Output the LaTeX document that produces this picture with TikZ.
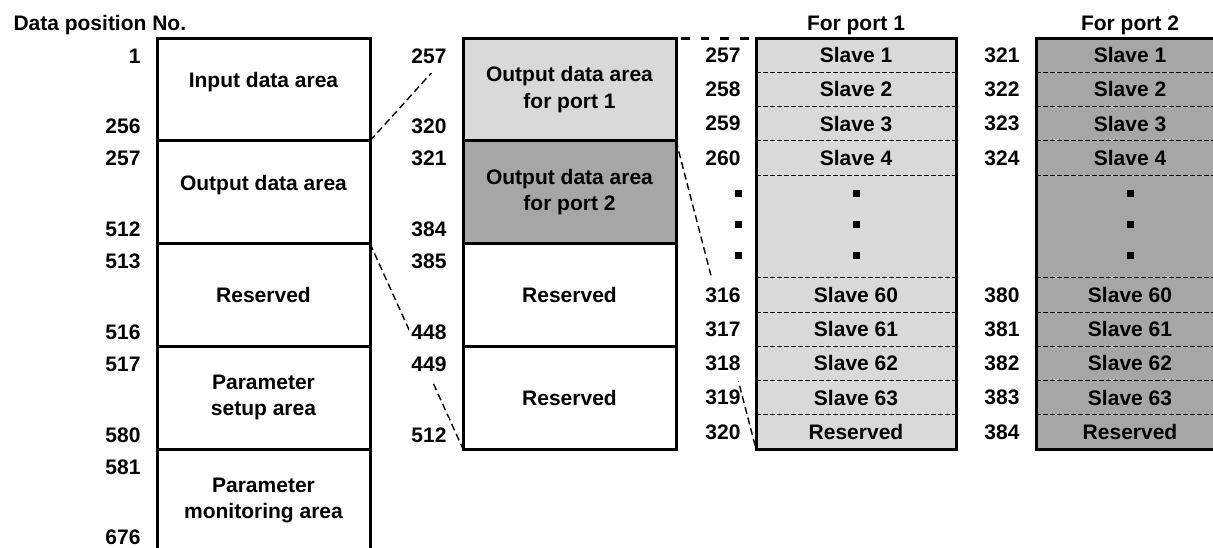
\documentclass[tikz,border=0pt]{standalone}
\usepackage{fontspec}
\setmainfont{Liberation Sans}
\definecolor{grisclair}{HTML}{D9D9D9}
\definecolor{grisfonce}{HTML}{A6A6A6}

\begin{document}
\begin{tikzpicture}[x=0.5pt, y=-0.5pt, line width=1.5pt,
  font=\bfseries\fontsize{10.5}{13.3}\selectfont,
  zone/.style={draw, anchor=north west, align=center, inner sep=0pt, outer sep=0pt,
    minimum width=106.5pt, minimum height=51.375pt},
  haut/.style={text depth=9pt},
  ligne/.style={anchor=north west, inner sep=0pt, outer sep=0pt, minimum height=17.125pt},
  num/.style={anchor=east, fill=white, inner xsep=1pt, inner ysep=0pt, minimum height=17.2pt},
  lien/.style={line width=0.7pt, dash pattern=on 3.5pt off 2pt},
  sep/.style={line width=0.5pt, dash pattern=on 2.5pt off 1pt}]
\useasboundingbox (0,0) rectangle (1213,547);
% left column
\node[zone, haut] (input) at (157,38) {Input data area};
\node[zone, haut] (output) at (157,140.75) {Output data area};
\node[zone] (res1) at (157,243.5) {Reserved};
\node[zone] (param) at (157,346.25) {Parameter\\setup area};
\node[zone] (monit) at (157,449) {Parameter\\monitoring area};
%% middle column
\node[zone, fill=grisclair] (op1) at (463,38) {Output data area\\for port 1};
\node[zone, fill=grisfonce] (op2) at (463,140.75) {Output data area\\for port 2};
\node[zone] (res2) at (463,243.5) {Reserved};
\node[zone] (res3) at (463,346.25) {Reserved};
% box port 1
\begin{scope}[every node/.append style={fill=grisclair, minimum width=100pt}]
\node[ligne] (p1s1) at (756,38) {Slave 1};
\node[ligne] (p1s2) at (756,72.25) {Slave 2};
\node[ligne] (p1s3) at (756,106.5) {Slave 3};
\node[ligne] (p1s4) at (756,140.75) {Slave 4};
\node[ligne, minimum height=51.375pt] (p1pts) at (756,175) {};
\node[ligne] (p1s60) at (756,277.75) {Slave 60};
\node[ligne] (p1s61) at (756,312) {Slave 61};
\node[ligne] (p1s62) at (756,346.25) {Slave 62};
\node[ligne] (p1s63) at (756,380.5) {Slave 63};
\node[ligne] (p1res) at (756,414.75) {Reserved};
\end{scope}
\draw[sep] (p1s1.south west) -- (p1s1.south east);
\draw[sep] (p1s2.south west) -- (p1s2.south east);
\draw[sep] (p1s3.south west) -- (p1s3.south east);
\draw[sep] (p1s4.south west) -- (p1s4.south east);
\draw[sep] (p1pts.south west) -- (p1pts.south east);
\draw[sep] (p1s60.south west) -- (p1s60.south east);
\draw[sep] (p1s61.south west) -- (p1s61.south east);
\draw[sep] (p1s62.south west) -- (p1s62.south east);
\draw[sep] (p1s63.south west) -- (p1s63.south east);
\draw (p1s1.north west) rectangle (p1res.south east);
\fill (852.5,189.5) rectangle +(7,7);
\fill (852.5,220.5) rectangle +(7,7);
\fill (852.5,251.5) rectangle +(7,7);
%% box port 2
\begin{scope}[every node/.append style={fill=grisfonce, minimum width=94pt}]
\node[ligne] (p2s1) at (1036,38) {Slave 1};
\node[ligne] (p2s2) at (1036,72.25) {Slave 2};
\node[ligne] (p2s3) at (1036,106.5) {Slave 3};
\node[ligne] (p2s4) at (1036,140.75) {Slave 4};
\node[ligne, minimum height=51.375pt] (p2pts) at (1036,175) {};
\node[ligne] (p2s60) at (1036,277.75) {Slave 60};
\node[ligne] (p2s61) at (1036,312) {Slave 61};
\node[ligne] (p2s62) at (1036,346.25) {Slave 62};
\node[ligne] (p2s63) at (1036,380.5) {Slave 63};
\node[ligne] (p2res) at (1036,414.75) {Reserved};
\end{scope}
\draw[sep] (p2s1.south west) -- (p2s1.south east);
\draw[sep] (p2s2.south west) -- (p2s2.south east);
\draw[sep] (p2s3.south west) -- (p2s3.south east);
\draw[sep] (p2s4.south west) -- (p2s4.south east);
\draw[sep] (p2pts.south west) -- (p2pts.south east);
\draw[sep] (p2s60.south west) -- (p2s60.south east);
\draw[sep] (p2s61.south west) -- (p2s61.south east);
\draw[sep] (p2s62.south west) -- (p2s62.south east);
\draw[sep] (p2s63.south west) -- (p2s63.south east);
\draw (p2s1.north west) rectangle (p2res.south east);
\fill (1126.5,189.5) rectangle +(7,7);
\fill (1126.5,220.5) rectangle +(7,7);
\fill (1126.5,251.5) rectangle +(7,7);
% dashed links
\draw[lien, shorten >=23.5pt] (input.south east) -- (op1.north west);
\draw[lien] (output.south east) -- (res3.south west);
\draw[lien] (op1.south east) -- (p1res.south west);
% numbers left
\node[num] (g1) at (144,56) {1};
\node[num] (g256) at (144,126.75) {256};
\node[num] (g257) at (144,158.75) {257};
\node[num] (g512) at (144,229.5) {512};
\node[num] (g513) at (144,261.5) {513};
\node[num] (g516) at (144,332.25) {516};
\node[num] (g517) at (144,364.25) {517};
\node[num] (g580) at (144,435) {580};
\node[num] (g581) at (144,467) {581};
\node[num] (g676) at (144,537.75) {676};
% numbers middle
\node[num] (m257) at (450,56) {257};
\node[num] (m320) at (450,126.75) {320};
\node[num] (m321) at (450,158.75) {321};
\node[num] (m384) at (450,229.5) {384};
\node[num] (m385) at (450,261.5) {385};
\node[num] (m448) at (450,332.25) {448};
\node[num] (m449) at (450,364.25) {449};
\node[num] (m512) at (450,435) {512};
% numbers port 1
\node[num] (a257) at (744,55.125) {257};
\node[num] (a258) at (744,89.375) {258};
\node[num] (a259) at (744,123.625) {259};
\node[num] (a260) at (744,157.875) {260};
\fill (735,189.5) rectangle +(7,7);
\fill (735,220.5) rectangle +(7,7);
\fill (735,251.5) rectangle +(7,7);
\node[num] (a316) at (744,294.875) {316};
\node[num] (a317) at (744,329.125) {317};
\node[num] (a318) at (744,363.375) {318};
\node[num, fill=none] (a319) at (744,397.625) {319};
\node[num, fill=none] (a320) at (744,431.875) {320};
% numbers port 2
\node[num] (b321) at (1023,55.125) {321};
\node[num] (b322) at (1023,89.375) {322};
\node[num] (b323) at (1023,123.625) {323};
\node[num] (b324) at (1023,157.875) {324};
\node[num] (b380) at (1023,294.875) {380};
\node[num] (b381) at (1023,329.125) {381};
\node[num] (b382) at (1023,363.375) {382};
\node[num] (b383) at (1023,397.625) {383};
\node[num] (b384) at (1023,431.875) {384};
% top link
\draw[dash pattern=on 4.25pt off 5.6pt, dash phase=7.35pt] (op1.north east) -- (p1s1.north west);
% titles
\node[anchor=base west, inner sep=0pt] (titre) at (12,30) {Data position No.};
\node[anchor=base, inner sep=0pt] (tp1) at (856,30) {For port 1};
\node[anchor=base, inner sep=0pt] (tp2) at (1130,30) {For port 2};
\end{tikzpicture}
\end{document}
